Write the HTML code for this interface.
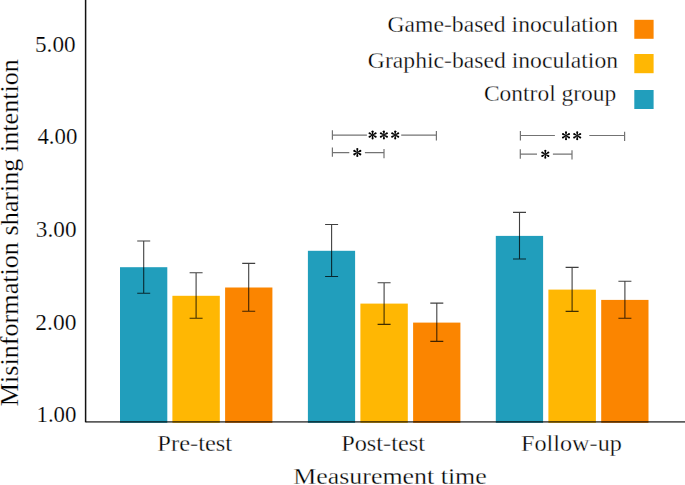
<!DOCTYPE html>
<html><head><meta charset="utf-8"><style>
html,body{margin:0;padding:0;background:#fff;}
svg{display:block;}
text{font-family:"Liberation Serif",serif;fill:#000;}
.lt{stroke:#fff;stroke-width:0.3px;}
.lt2{stroke:#fff;stroke-width:0.2px;}
</style></head><body>
<svg width="685" height="485" viewBox="0 0 685 485">
<rect x="0" y="0" width="685" height="485" fill="#fff"/>
<g>
<rect x="120.0" y="267.2" width="47.30" height="155.65" fill="#219ebc"/>
<rect x="172.4" y="295.8" width="47.40" height="127.05" fill="#ffb703"/>
<rect x="225.1" y="287.5" width="47.30" height="135.35" fill="#fb8500"/>
<rect x="307.9" y="250.8" width="47.20" height="172.05" fill="#219ebc"/>
<rect x="360.4" y="303.6" width="47.40" height="119.25" fill="#ffb703"/>
<rect x="413.1" y="322.6" width="47.30" height="100.25" fill="#fb8500"/>
<rect x="495.8" y="235.9" width="47.30" height="186.95" fill="#219ebc"/>
<rect x="548.4" y="289.6" width="47.50" height="133.25" fill="#ffb703"/>
<rect x="601.2" y="299.9" width="47.30" height="122.95" fill="#fb8500"/>
</g>
<g stroke="#000" stroke-width="1.1" fill="none" stroke-opacity="0.75">
<path d="M143.7 241.0V293.2M137.20 241.0H150.20M137.20 293.2H150.20"/>
<path d="M196.1 272.8V318.3M189.60 272.8H202.60M189.60 318.3H202.60"/>
<path d="M248.7 263.4V311.3M242.20 263.4H255.20M242.20 311.3H255.20"/>
<path d="M331.6 224.5V276.5M325.10 224.5H338.10M325.10 276.5H338.10"/>
<path d="M384.1 282.8V324.4M377.60 282.8H390.60M377.60 324.4H390.60"/>
<path d="M436.8 303.1V341.4M430.30 303.1H443.30M430.30 341.4H443.30"/>
<path d="M519.5 212.4V259.0M513.00 212.4H526.00M513.00 259.0H526.00"/>
<path d="M572.1 267.4V311.4M565.60 267.4H578.60M565.60 311.4H578.60"/>
<path d="M624.9 281.3V318.3M618.40 281.3H631.40M618.40 318.3H631.40"/>
</g>
<path d="M85.6 0V422.2" stroke="#111" stroke-width="1.5" fill="none"/>
<path d="M85.6 421.9H685" stroke="#000" stroke-opacity="0.64" stroke-width="1.9" fill="none"/>
<g stroke="#000" stroke-opacity="0.55" stroke-width="1.2" fill="none">
<path d="M332.4 135.1H366.9M401.2 135.1H436.4M332.4 130.2V139.8M436.4 131V140.6"/>
<path d="M332.4 152.7H349.3M364.9 152.7H384M332.4 147.4V156.8M384 149V158.3"/>
<path d="M520.4 135.5H554.9M589.3 135.5H624.6M520.4 131V140.5M624.6 131.8V141"/>
<path d="M520.3 154.2H537M552.9 154.2H572M520.3 149.3V158.7M572 150.2V159.5"/>
</g>
<defs>
<g id="ast">
<path id="sp" d="M-0.3 0L-1.05 -3.75A1.1 1.1 0 0 1 1.05 -3.75L0.3 0Z"/>
<use href="#sp" transform="rotate(60)"/><use href="#sp" transform="rotate(120)"/>
<use href="#sp" transform="rotate(180)"/><use href="#sp" transform="rotate(240)"/><use href="#sp" transform="rotate(300)"/>

</g>
</defs>
<g fill="#000">
<use href="#ast" x="372.6" y="135"/>
<use href="#ast" x="383.9" y="135"/>
<use href="#ast" x="395.2" y="135"/>
<use href="#ast" x="357.3" y="152.6"/>
<use href="#ast" x="566" y="135.7"/>
<use href="#ast" x="577.2" y="135.7"/>
<use href="#ast" x="545.3" y="154.3"/>
</g>
<text class="lt2" transform="translate(35.01,51.90) scale(0.9794,1)" font-size="23.7">5.00</text>
<text class="lt2" transform="translate(37.44,144.40) scale(0.9637,1)" font-size="23.7">4.00</text>
<text class="lt2" transform="translate(35.84,237.00) scale(0.9811,1)" font-size="23.7">3.00</text>
<text class="lt2" transform="translate(35.36,329.50) scale(0.9904,1)" font-size="23.7">2.00</text>
<text class="lt2" transform="translate(36.44,421.80) scale(0.9663,1)" font-size="23.7">1.00</text>
<text class="lt2" transform="translate(17.50,406.18) rotate(-90) scale(1.0678,1)" font-size="24.5">Misinformation sharing intention</text>
<text class="lt" transform="translate(157.36,451.00) scale(1.0339,1)" font-size="23.7">Pre-test</text>
<text class="lt" transform="translate(341.17,451.00) scale(1.0258,1)" font-size="23.7">Post-test</text>
<text class="lt" transform="translate(520.97,451.00) scale(1.0219,1)" font-size="23.7">Follow-up</text>
<text class="lt" transform="translate(293.22,483.50) scale(1.0936,1)" font-size="23.7">Measurement time</text>
<text class="lt" transform="translate(387.45,32.20) scale(1.0475,1)" font-size="22.6">Game-based inoculation</text>
<text class="lt" transform="translate(367.85,67.80) scale(1.0473,1)" font-size="22.6">Graphic-based inoculation</text>
<text class="lt" transform="translate(483.96,101.30) scale(1.0393,1)" font-size="22.6">Control group</text>
<rect x="634.3" y="19.8" width="19.3" height="19" fill="#fb8500"/>
<rect x="634.3" y="54" width="19.3" height="19.2" fill="#ffb703"/>
<rect x="634.3" y="90" width="19.3" height="19" fill="#219ebc"/>
</svg>
</body></html>
